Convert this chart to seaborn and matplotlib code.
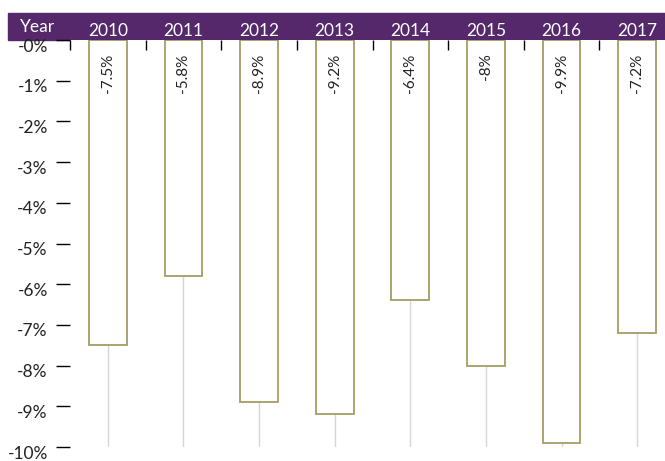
import matplotlib
matplotlib.use("Agg")
import matplotlib.pyplot as plt
import matplotlib.transforms as mtransforms
from matplotlib.patches import Rectangle
import seaborn as sns
import pandas as pd

years = ["2010", "2011", "2012", "2013", "2014", "2015", "2016", "2017"]
values = [-7.5, -5.8, -8.9, -9.2, -6.4, -8.0, -9.9, -7.2]
y_ticks = [0, -1, -2, -3, -4, -5, -6, -7, -8, -9, -10]

purple = "#55276b"
olive = "#a39d63"

sns.set_style("white")
plt.rcParams["font.family"] = ["Lato", "DejaVu Sans"]

df = pd.DataFrame({"year": years, "value": values})

fig = plt.figure(figsize=(6.65, 4.61), dpi=100)
# axes run a little past the right edge, like the original
ax = fig.add_axes([70 / 665, 14 / 461, 605 / 665, 407 / 461])

# purple header band behind the year labels
fig.patches.append(Rectangle((8 / 665, 421 / 461), 1, 27 / 461,
                             transform=fig.transFigure, color=purple, zorder=-1))
fig.text(38 / 665, 434 / 461, "Year", color="white", fontsize=12.5,
         ha="center", va="center")

# grey stems from bar bottom to the floor
ax.vlines(range(len(values)), -10, values, color="#d6d6d6", linewidth=1, zorder=0)

sns.barplot(data=df, x="year", y="value", color="white", edgecolor=olive,
            linewidth=1.3, width=0.5, ax=ax, zorder=2, saturation=1)

for i, v in enumerate(values):
    ax.text(i, -0.33, f"{v:g}%", rotation=90, ha="center", va="top",
            fontsize=11, color="#222222", zorder=3)

ax.set_ylim(-10, 0)
ax.set_xlim(-0.5, len(years) - 0.5)
ax.set_xlabel("")
ax.set_ylabel("")
sns.despine(ax=ax, left=True, bottom=True, top=True, right=True)

ax.set_yticks(y_ticks)
ax.set_yticklabels([f"-{abs(t)}%" for t in y_ticks], fontsize=12.5, color="#222222")
ax.tick_params(axis="y", direction="out", length=10, width=1, color="black", pad=6, left=True)
offset = mtransforms.ScaledTranslation(0, -0.05, fig.dpi_scale_trans)
for lab in ax.get_yticklabels():
    lab.set_transform(lab.get_transform() + offset)

ax.xaxis.set_ticks_position("top")
ax.xaxis.set_label_position("top")
ax.set_xticks(range(len(years)))
ax.set_xticklabels(years, color="white", fontsize=12.5)
ax.set_xticks([i - 0.5 for i in range(len(years))], minor=True)
ax.tick_params(axis="x", which="major", length=0, pad=1, top=True, bottom=False)
ax.tick_params(axis="x", which="minor", direction="in", length=7, width=1,
               color="black", top=True, bottom=False)

fig.savefig("out.png", dpi=100)
